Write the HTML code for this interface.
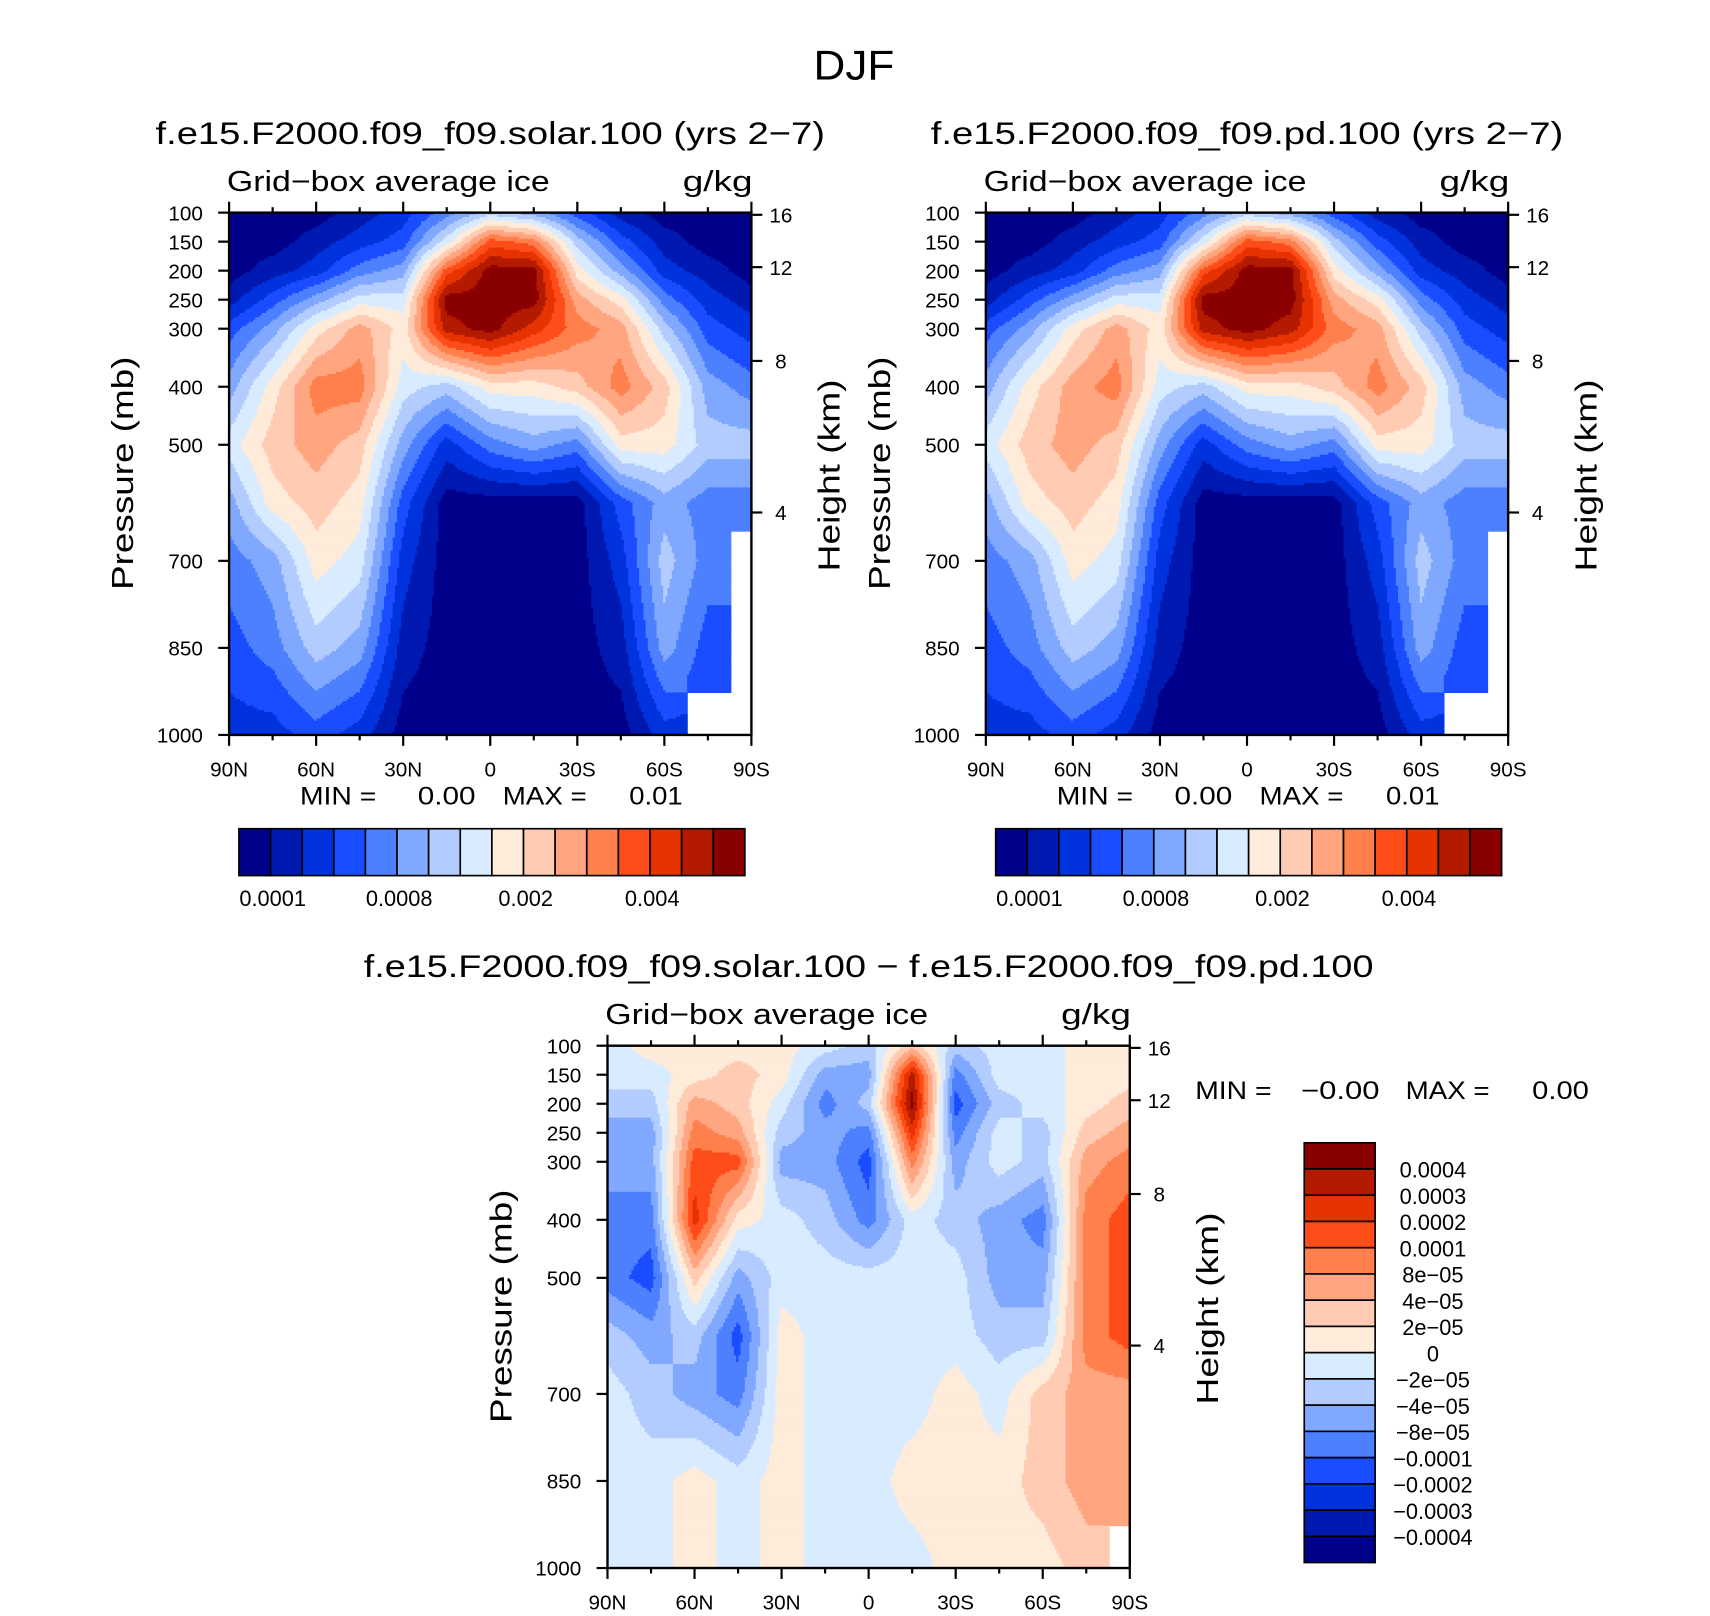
<!DOCTYPE html>
<html><head><meta charset="utf-8"><style>
html,body{margin:0;padding:0;background:#fff}
svg{display:block}
text{font-family:"Liberation Sans","DejaVu Sans",sans-serif;fill:#000}
</style></head><body>
<svg id="fig" width="1710" height="1616" viewBox="0 0 1568 1482" xmlns="http://www.w3.org/2000/svg">
<rect width="1568" height="1482" fill="#fff"/>
<text x="783" y="73" font-size="38" text-anchor="middle" textLength="74" lengthAdjust="spacingAndGlyphs">DJF</text>
</svg>
<script>
// ---- data ----
const lats = [90,75,60,45,30,15,0,-15,-30,-45,-60,-75,-90];
const pressLevels = [100,150,200,250,300,400,500,600,700,850,1000];
const solarField = [
 [0,0,0,1,2,4,6,5,3,1,0,0,0],
 [0,0,1,2,3,7,12,11,6,3,1,0,0],
 [0,1,2,4,5,12,15,15,8,5,2,1,0],
 [1,3,5,7,7,15,15,15,10,8,4,2,1],
 [3,5,8,10,8,14,15,13,11,10,6,3,2],
 [5,8,11,11,7,6,8,8,9,11,9,5,4],
 [7,9,10,9,5,2,4,5,4,8,8,6,6],
 [5,8,9,8,3,0,0,0,0,3,5,4,4],
 [4,5,8,7,2,0,0,0,0,2,6,4,-1],
 [3,4,6,5,1,0,0,0,0,1,5,3,-1],
 [2,2,3,2,0,0,0,0,0,0,2,-1,-1]];
const pdField = [
 [0,0,0,1,2,4,6,5,3,1,0,0,0],
 [0,0,1,2,3,7,12,11,6,3,1,0,0],
 [0,1,2,4,5,12,15,15,8,5,2,1,0],
 [1,3,5,7,7,15,15,15,10,8,4,2,1],
 [3,5,8,10,8,14,15,14,11,10,6,3,2],
 [5,8,10,11,7,6,8,8,9,11,9,5,4],
 [7,9,10,9,5,2,4,5,4,8,8,6,6],
 [5,8,9,8,3,0,0,0,0,3,5,4,4],
 [4,5,8,7,2,0,0,0,0,2,6,4,-1],
 [3,4,6,5,1,0,0,0,0,1,5,3,-1],
 [2,2,3,2,0,0,0,0,0,0,2,-1,-1]];
const diffField = [
 [7,8,8,8,8,7,6,9,6,7,7,8,8],
 [7,7,8,9,8,5,5,14,4,7,7,8,8],
 [6,6,10,9,7,4,6,15,3,6,7,8,9],
 [5,5,11,10,6,5,4,13,4,7,6,9,10],
 [5,5,12,12,5,5,3,11,5,7,6,10,11],
 [4,4,13,8,7,6,4,7,6,5,4,11,12],
 [4,3,9,5,7,7,7,7,7,5,5,11,12],
 [6,5,6,3,8,7,7,7,7,6,6,11,12],
 [7,6,5,4,8,7,7,7,8,7,9,10,10],
 [7,7,8,7,8,7,7,8,8,8,9,10,10],
 [7,7,8,7,8,7,7,7,8,8,8,9,-1]];
const colors = ["#00008A","#0019B0","#0033DD","#1A4DFF","#4D80FF","#80A8FF","#B3CCFF","#D9EBFF","#FFEBD9","#FFCCB3","#FFA680","#FF804D","#FF4D1A","#E63300","#B31A00","#8A0000"];
const pTicks = [100,150,200,250,300,400,500,700,850,1000];
const hTicks = [16,12,8,4];
const hTickY = [197,245,331,470];
const latTickLabels = ["90N","60N","30N","0","30S","60S","90S"];
const topCbLabels = ["0.0001","0.0008","0.002","0.004"];
const topCbIdx = [1,5,9,13];
const diffCbLabels = ["0.0004","0.0003","0.0002","0.0001","8e\u221205","4e\u221205","2e\u221205","0","\u22122e\u221205","\u22124e\u221205","\u22128e\u221205","\u22120.0001","\u22120.0002","\u22120.0003","\u22120.0004"];

const NS="http://www.w3.org/2000/svg";
const svg=document.getElementById('fig');
function mk(tag,attrs,parent){const e=document.createElementNS(NS,tag);for(const k in attrs)e.setAttribute(k,attrs[k]);(parent||svg).appendChild(e);return e;}
function txt(s,attrs,parent){const e=mk('text',attrs,parent);e.textContent=s;return e;}

function sample(field,lat,p){
  let r=0;while(r<pressLevels.length-2&&p>pressLevels[r+1])r++;
  let c=0;while(c<lats.length-2&&lat<lats[c+1])c++;
  const tp=(p-pressLevels[r])/(pressLevels[r+1]-pressLevels[r]);
  const tl=(lats[c]-lat)/(lats[c]-lats[c+1]);
  const v00=field[r][c],v01=field[r][c+1],v10=field[r+1][c],v11=field[r+1][c+1];
  const near=[[v00,v01],[v10,v11]][tp<0.5?0:1][tl<0.5?0:1];
  if(near<0)return -1;
  const a=v00<0?near:v00,b=v01<0?near:v01,cc=v10<0?near:v10,d=v11<0?near:v11;
  return (a*(1-tl)+b*tl)*(1-tp)+(cc*(1-tl)+d*tl)*tp;
}

function panel(name,x0,y0,field,title,titleLen,minmax){
  const W=479,H=479;
  const g=mk('g',{});
  
  
  const xs=lat=>x0+(90-lat)/180*W;
  const ys=p=>y0+(p-100)/900*H;
  const step=2;
  for(let py=y0;py<y0+H;py+=step){
    const p=100+(py+step/2-y0)/H*900;
    let runStart=x0,runCls=null;
    for(let px=x0;;px+=step){
      const end=px>=x0+W;
      let cls=null;
      if(!end){
        const lat=90-(px+step/2-x0)/W*180;
        const v=sample(field,lat,p);
        cls=v<0?-1:Math.max(0,Math.min(15,Math.floor(v+0.5)));
      }
      if(cls!==runCls||end){
        if(runCls!==null&&runCls>=0){
          const r=mk('rect',{x:runStart,y:py,width:Math.min(px,x0+W)-runStart+0.6,height:Math.min(step+0.6,y0+H-py),fill:colors[runCls]},g);
          
          
        }
        runStart=px;runCls=cls;
      }
      if(end)break;
    }
  }
  mk('rect',{x:x0,y:y0,width:W,height:H,fill:'none',stroke:'#000','stroke-width':2.2},g);
  pTicks.forEach(p=>{
    mk('line',{x1:x0-10,x2:x0,y1:ys(p),y2:ys(p),stroke:'#000','stroke-width':2},g);
    const t=txt(String(p),{x:x0-24,y:ys(p)+7,'font-size':19,'text-anchor':'end'},g);
    
    
  });
  hTicks.forEach((h,i)=>{
    const y=y0+(hTickY[i]-195);
    mk('line',{x1:x0+W,x2:x0+W+10,y1:y,y2:y,stroke:'#000','stroke-width':2},g);
    const t=txt(String(h),{x:x0+W+27,y:y+7,'font-size':19,'text-anchor':'middle'},g);
    
    
  });
  for(let lat=90;lat>=-90;lat-=15){
    const major=lat%30===0, len=major?10:5;
    mk('line',{x1:xs(lat),x2:xs(lat),y1:y0+H,y2:y0+H+len,stroke:'#000','stroke-width':2},g);
    mk('line',{x1:xs(lat),x2:xs(lat),y1:y0,y2:y0-len,stroke:'#000','stroke-width':2},g);
  }
  latTickLabels.forEach((s,i)=>{
    const t=txt(s,{x:xs(90-i*30),y:y0+H+38,'font-size':19,'text-anchor':'middle'},g);
    
    
  });
  const a=txt('Pressure (mb)',{x:0,y:0,'font-size':28,'text-anchor':'middle',textLength:214,lengthAdjust:'spacingAndGlyphs',transform:`translate(${x0-88},${y0+239}) rotate(-90)`},g);
  
  
  const b=txt('Height (km)',{x:0,y:0,'font-size':28,'text-anchor':'middle',textLength:176,lengthAdjust:'spacingAndGlyphs',transform:`translate(${x0+W+81},${y0+241}) rotate(-90)`},g);
  
  
  const lt=txt('Grid\u2212box average ice',{x:x0-2,y:y0-20,'font-size':26,textLength:296,lengthAdjust:'spacingAndGlyphs'},g);
  
  
  const ut=txt('g/kg',{x:x0+416,y:y0-20,'font-size':26,textLength:64,lengthAdjust:'spacingAndGlyphs'},g);
  
  
  const tt=txt(title,{x:x0+W/2,y:y0-63,'font-size':29,'text-anchor':'middle',textLength:titleLen,lengthAdjust:'spacingAndGlyphs'},g);
  
  
  if(minmax){
    [['MIN =',65,70],['0.00',173,53],['MAX =',251,77],['0.01',367,49]].forEach(d=>{
      const m=txt(d[0],{x:x0+d[1],y:y0+H+64,'font-size':23,textLength:d[2],lengthAdjust:'spacingAndGlyphs'},g);
      
      
    });
  }
}

function hColorbar(name,x0,y0){
  const g=mk('g',{});
  
  
  const bw=464/16;
  colors.forEach((c,i)=>{
    const r=mk('rect',{x:x0+i*bw,y:y0,width:bw,height:43,fill:c,stroke:'#000','stroke-width':1.5},g);
    
    
  });
  topCbLabels.forEach((s,i)=>{
    const t=txt(s,{x:x0+topCbIdx[i]*bw+2,y:y0+71,'font-size':20,'text-anchor':'middle'},g);
    
    
  });
}

panel('solar-panel',210,195,solarField,'f.e15.F2000.f09_f09.solar.100 (yrs 2\u22127)',614,true);
panel('pd-panel',904,195,pdField,'f.e15.F2000.f09_f09.pd.100 (yrs 2\u22127)',580,true);
hColorbar('solar-colorbar',219,760);
hColorbar('pd-colorbar',913,760);
panel('difference-panel',557,959,diffField,'f.e15.F2000.f09_f09.solar.100 \u2212 f.e15.F2000.f09_f09.pd.100',926,false);

(function(){
  const g=mk('g',{});
  
  
  const x0=1196,y0=1048,bh=385/16;
  for(let i=0;i<16;i++){
    const r=mk('rect',{x:x0,y:y0+i*bh,width:65,height:bh,fill:colors[15-i],stroke:'#000','stroke-width':1.5},g);
    
    
  }
  diffCbLabels.forEach((s,i)=>{
    const t=txt(s,{x:1314,y:y0+(i+1)*bh+8,'font-size':20,'text-anchor':'middle'},g);
    
    
  });
  [['MIN =',1096,70],['\u22120.00',1193,72],['MAX =',1289,77],['0.00',1405,52]].forEach(d=>{
    const m=txt(d[0],{x:d[1],y:1008,'font-size':23,textLength:d[2],lengthAdjust:'spacingAndGlyphs'},g);
    
    
  });
})();
</script>
</body></html>
